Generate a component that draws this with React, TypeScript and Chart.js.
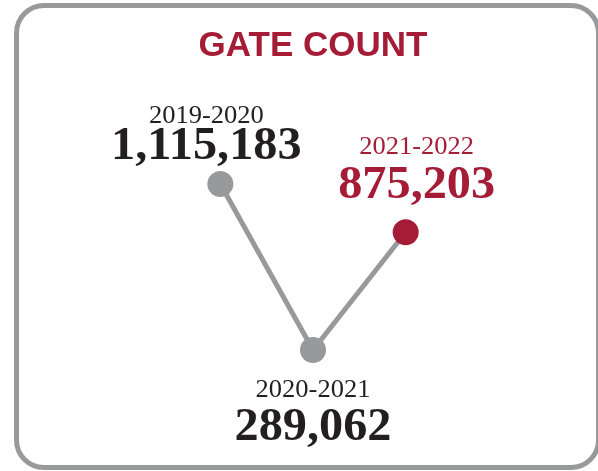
import { useEffect, useRef } from 'react';
import { Chart, registerables } from 'chart.js';

Chart.register(...registerables);

const chartTitle = 'GATE COUNT';
const periods = ['2019-2020', '2020-2021', '2021-2022'];
const gateCounts = [1115183, 289062, 875203];
const highlightedPeriod = '2021-2022';

const CRIMSON = '#A51C36';
const GRAY = '#98999B';
const INK = '#231F20';
const SERIF = '"Liberation Serif", "Times New Roman", serif';

export default function App() {
  const ref = useRef<HTMLCanvasElement>(null);

  useEffect(() => {
    const canvas = ref.current;
    if (!canvas) return;
    const minV = Math.min(...gateCounts);
    const maxV = Math.max(...gateCounts);
    const isHl = (i: number) => periods[i] === highlightedPeriod;

    const drawText = (
      ctx: CanvasRenderingContext2D,
      text: string,
      x: number,
      y: number,
      font: string,
      stretch: number
    ) => {
      ctx.save();
      ctx.translate(x, y);
      ctx.scale(stretch, 1);
      ctx.font = font;
      ctx.fillText(text, 0, 0);
      ctx.restore();
    };

    const labelPlugin = {
      id: 'pointLabels',
      afterDatasetsDraw(chart: any) {
        const ctx = chart.ctx as CanvasRenderingContext2D;
        const meta = chart.getDatasetMeta(0);
        const mid = (periods.length - 1) / 2;
        meta.data.forEach((pt: any, i: number) => {
          const v = gateCounts[i];
          const below = v === minV;
          const left = i < mid;
          const color = isHl(i) ? CRIMSON : INK;
          const dx = below ? 0 : left ? -14 : 11;
          const x = pt.x + dx;
          let yearY: number;
          let valueY: number;
          if (below) {
            yearY = pt.y + 47;
            valueY = yearY + 43;
          } else if (left) {
            valueY = pt.y - 25;
            yearY = valueY - 36;
          } else {
            valueY = pt.y - 34;
            yearY = valueY - 44;
          }
          ctx.save();
          ctx.fillStyle = color;
          ctx.textAlign = 'center';
          ctx.textBaseline = 'alphabetic';
          drawText(ctx, periods[i], x, yearY, `normal 26px ${SERIF}`, 1.02);
          drawText(ctx, v.toLocaleString('en-US'), x, valueY, `bold 46px ${SERIF}`, 1.05);
          ctx.restore();
        });
      },
    };

    const chart = new Chart(canvas, {
      type: 'line',
      data: {
        labels: periods,
        datasets: [
          {
            data: gateCounts,
            borderColor: GRAY,
            borderWidth: 5,
            tension: 0,
            clip: false as any,
            pointRadius: 13,
            pointHoverRadius: 13,
            pointBorderWidth: 0,
            pointBackgroundColor: periods.map((_, i) => (isHl(i) ? CRIMSON : GRAY)),
          },
        ],
      },
      options: {
        responsive: false,
        animation: false,
        events: [],
        layout: { padding: { left: 174, right: 146, top: 0, bottom: 121 } },
        scales: {
          x: { type: 'category', offset: true, display: false },
          y: { display: false, min: minV, max: maxV },
        },
        plugins: {
          legend: { display: false },
          tooltip: { enabled: false },
          title: {
            display: true,
            text: chartTitle,
            color: CRIMSON,
            font: { family: '"Liberation Sans", Arial, sans-serif', size: 35, weight: 'bold', lineHeight: 1.2 },
            padding: { top: 25, bottom: 117 },
          },
        },
      },
      plugins: [labelPlugin],
    });
    return () => chart.destroy();
  }, []);

  return (
    <div
      style={{
        position: 'fixed',
        left: 0,
        top: 0,
        width: 598,
        height: 471,
        overflow: 'hidden',
        background: '#ffffff',
      }}
    >
      <div
        style={{
          position: 'absolute',
          left: 14,
          top: 3,
          width: 587,
          height: 467,
          boxSizing: 'border-box',
          border: `5px solid ${GRAY}`,
          borderRadius: 30,
        }}
      />
      <canvas
        ref={ref}
        width={598}
        height={471}
        style={{ position: 'absolute', left: 0, top: 0, width: 598, height: 471 }}
      />
    </div>
  );
}
